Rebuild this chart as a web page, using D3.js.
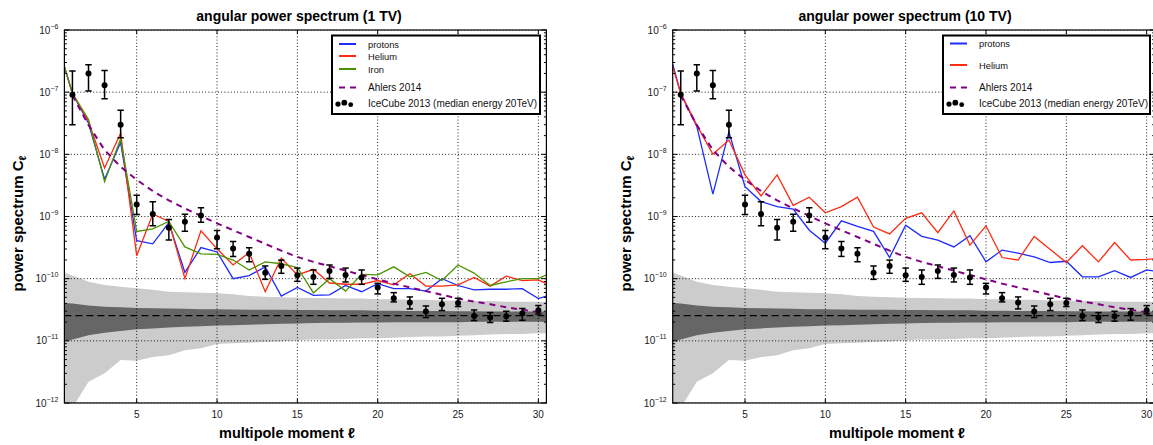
<!DOCTYPE html>
<html><head><meta charset="utf-8">
<script src="https://cdn.jsdelivr.net/npm/d3@7"></script>
<style>body{margin:0;background:#fff} svg{display:block}</style>
</head><body>
<svg id="chart" width="1153" height="445"></svg>
<script>
// ---------------- DATA ----------------
const ell = d3.range(1, 31);
const xTicks = [5, 10, 15, 20, 25, 30];
const yDecades = [-6, -7, -8, -9, -10, -11, -12];

// IceCube 2013 (median energy 20 TeV)
const iceCube = [9.1e-8, 2.0e-7, 1.29e-7, 3.0e-8, 1.56e-9, 1.10e-9, 6.6e-10, 8.2e-10, 1.04e-9, 4.6e-10,
  3.07e-10, 2.52e-10, 1.25e-10, 1.6e-10, 1.13e-10, 1.06e-10, 1.33e-10, 1.15e-10, 1.04e-10, 7.18e-11,
  4.83e-11, 4.12e-11, 2.96e-11, 3.87e-11, 4.07e-11, 2.52e-11, 2.37e-11, 2.49e-11, 2.75e-11, 3.1e-11];
const iceCubeLow = [3.0e-8, 1.04e-7, 7.8e-8, 1.85e-8, 1.08e-9, 7.1e-10, 4.2e-10, 5.8e-10, 8.1e-10, 3.03e-10,
  2.28e-10, 1.87e-10, 9.75e-11, 1.22e-10, 9.06e-11, 8.11e-11, 1.01e-10, 8.85e-11, 8.11e-11, 5.68e-11,
  4.23e-11, 3.26e-11, 2.37e-11, 3.07e-11, 3.56e-11, 2.12e-11, 1.97e-11, 2.07e-11, 2.15e-11, 2.71e-11];
const iceCubeHigh = [2.2e-7, 2.75e-7, 2.23e-7, 5.1e-8, 2.2e-9, 1.72e-9, 8.95e-10, 1.09e-9, 1.38e-9, 5.96e-10,
  3.97e-10, 3.14e-10, 1.6e-10, 1.99e-10, 1.48e-10, 1.38e-10, 1.66e-10, 1.48e-10, 1.38e-10, 8.41e-11,
  5.96e-11, 5.08e-11, 3.64e-11, 4.83e-11, 4.83e-11, 3.14e-11, 2.85e-11, 2.99e-11, 3.30e-11, 3.69e-11];

// Ahlers 2014 (log10 C_l)
const ahlersLog10 = [-7.05, -7.53, -7.93, -8.20, -8.41, -8.59, -8.74, -8.87, -8.99, -9.11,
  -9.22, -9.33, -9.44, -9.55, -9.65, -9.73, -9.80, -9.87, -9.94, -10.01,
  -10.08, -10.14, -10.20, -10.26, -10.32, -10.37, -10.41, -10.46, -10.50, -10.54];

// model curves sampled at the plot edges and at each multipole (log10 C_l)
const modelEll = [0.5, ...d3.range(1, 31), 30.5];
const protons1TV = [-6.59, -7.02, -7.50, -8.40, -7.81, -9.39, -9.44, -9.10, -9.90, -9.50, -9.57,
  -10.00, -9.95, -9.81, -10.28, -10.14, -10.27, -10.26, -10.11, -10.21, -10.08,
  -10.16, -10.16, -10.20, -10.00, -10.11, -10.18, -10.17, -10.17, -10.16, -10.32, -10.28];
const helium1TV = [-6.59, -7.02, -7.47, -8.22, -7.66, -9.63, -8.96, -9.08, -10.00, -9.23, -9.52,
  -9.78, -9.58, -10.21, -9.67, -9.94, -9.85, -10.07, -10.09, -10.09, -10.03,
  -10.10, -9.92, -10.12, -10.12, -10.10, -9.98, -10.12, -9.96, -10.03, -10.02, -10.08];
const iron1TV = [-6.59, -7.02, -7.44, -8.44, -7.75, -9.24, -9.20, -9.08, -9.49, -9.60, -9.61,
  -9.70, -9.86, -9.73, -9.76, -9.82, -10.23, -10.00, -10.20, -9.93, -9.94,
  -9.81, -9.97, -9.90, -10.03, -9.78, -9.91, -10.11, -10.05, -10.00, -10.00, -9.94];
const protons10TV = [-6.55, -7.02, -7.55, -8.64, -7.64, -8.52, -8.76, -8.84, -8.88, -9.22, -9.43,
  -9.07, -9.16, -9.24, -9.66, -9.14, -9.32, -9.38, -9.49, -9.31, -9.73,
  -9.54, -9.59, -9.65, -9.74, -9.72, -9.97, -9.97, -9.87, -9.98, -9.86, -9.88];
const helium10TV = [-6.59, -7.02, -7.53, -8.00, -7.77, -8.33, -8.67, -8.33, -8.82, -8.69, -8.94,
  -8.84, -8.69, -9.17, -9.28, -9.03, -8.94, -9.26, -8.91, -9.46, -9.15,
  -9.66, -9.70, -9.32, -9.53, -9.74, -9.47, -9.73, -9.42, -9.70, -9.69, -9.68];

// isotropic expectation and its bands (log10 C_l)
const isoLevel = 2.55e-11;
const lightTopLog10 = [-9.90, -9.95, -10.05, -10.10, -10.13, -10.155, -10.18, -10.21, -10.22, -10.225, -10.235,
  -10.25, -10.28, -10.29, -10.30, -10.305, -10.31, -10.315, -10.32, -10.32, -10.33,
  -10.33, -10.34, -10.34, -10.35, -10.35, -10.36, -10.36, -10.37, -10.37, -10.37, -10.37];
const lightBottomLog10 = [-12.3, -12.08, -11.66, -11.52, -11.31, -11.32, -11.26, -11.23, -11.15, -11.12, -11.05,
  -11.04, -11.03, -11.02, -11.01, -10.99, -10.98, -10.98, -10.97, -10.96, -10.96,
  -10.95, -10.94, -10.93, -10.93, -10.92, -10.91, -10.90, -10.89, -10.89, -10.88, -10.88];
const darkTopLog10 = [-10.39, -10.40, -10.43, -10.45, -10.46, -10.47, -10.475, -10.48, -10.485, -10.49, -10.49,
  -10.495, -10.50, -10.50, -10.50, -10.505, -10.505, -10.51, -10.51, -10.51, -10.515,
  -10.515, -10.52, -10.52, -10.52, -10.525, -10.525, -10.53, -10.53, -10.53, -10.53, -10.53];
const darkBottomLog10 = [-11.01, -10.98, -10.91, -10.87, -10.84, -10.815, -10.80, -10.785, -10.775, -10.765, -10.755,
  -10.75, -10.74, -10.735, -10.725, -10.72, -10.715, -10.71, -10.71, -10.705, -10.705,
  -10.70, -10.70, -10.70, -10.70, -10.70, -10.695, -10.695, -10.695, -10.695, -10.695, -10.695];

// ---------------- DRAW ----------------
const FONT = "'Liberation Sans', Arial, sans-serif";
const Y0 = 30, Y1 = 403;
const svg = d3.select("#chart");
svg.append("rect").attr("width", 1153).attr("height", 445).attr("fill", "#fff");

const COL = { protons: "#1c2cff", Helium: "#ff2a10", Iron: "#4a9400", ahlers: "#820082" };

const panels = [
  { id: "a", x0: 64.4, x1: 546.4, title: "angular power spectrum (1 TV)", titleX: 299, xlabX: 287, ylabX: 23,
    models: [{ name: "protons", v: protons1TV }, { name: "Helium", v: helium1TV }, { name: "Iron", v: iron1TV }],
    legend: { x: 332, w: 208, rows: [44, 56, 69, 87.5, 103.5] } },
  { id: "b", x0: 672.7, x1: 1154.7, title: "angular power spectrum (10 TV)", titleX: 905, xlabX: 897, ylabX: 631,
    models: [{ name: "protons", v: protons10TV }, { name: "Helium", v: helium10TV }],
    legend: { x: 943, w: 207, rows: [43.5, 65, 87.5, 103.5] } }
];

panels.forEach(p => {
  const x = d3.scaleLinear().domain([0.5, 30.5]).range([p.x0, p.x1]);
  const y = d3.scaleLog().domain([1e-12, 1e-6]).range([Y1, Y0]);
  const cid = "clip" + p.id;
  svg.append("clipPath").attr("id", cid).append("rect")
    .attr("x", p.x0).attr("y", Y0).attr("width", p.x1 - p.x0).attr("height", Y1 - Y0);
  const plot = svg.append("g").attr("clip-path", `url(#${cid})`);

  const band = (lo, hi) => d3.area()
    .x((d, i) => x(modelEll[i]))
    .y0((d, i) => y(Math.pow(10, lo[i])))
    .y1((d, i) => y(Math.pow(10, hi[i])))(modelEll);
  plot.append("path").attr("d", band(lightBottomLog10, lightTopLog10)).attr("fill", "#cccccc");
  plot.append("path").attr("d", band(darkBottomLog10, darkTopLog10)).attr("fill", "#666666");
  plot.append("line").attr("x1", p.x0).attr("x2", p.x1).attr("y1", y(isoLevel)).attr("y2", y(isoLevel))
    .attr("stroke", "#000").attr("stroke-width", 1.2).attr("stroke-dasharray", "7,4");

  // grid
  const grid = plot.append("g").attr("stroke", "#000").attr("stroke-width", 0.9).attr("stroke-dasharray", "1,2.2");
  xTicks.forEach(t => grid.append("line").attr("x1", x(t)).attr("x2", x(t)).attr("y1", Y0).attr("y2", Y1));
  yDecades.forEach(e => grid.append("line").attr("x1", p.x0).attr("x2", p.x1)
    .attr("y1", y(Math.pow(10, e))).attr("y2", y(Math.pow(10, e))));

  // models
  p.models.forEach(m => {
    plot.append("path")
      .attr("d", d3.line().x((d, i) => x(modelEll[i])).y(d => y(Math.pow(10, d)))(m.v))
      .attr("fill", "none").attr("stroke", COL[m.name]).attr("stroke-width", 1.3).attr("stroke-linejoin", "miter");
  });

  // Ahlers
  plot.append("path")
    .attr("d", d3.line().x((d, i) => x(ell[i])).y(d => y(Math.pow(10, d)))(ahlersLog10))
    .attr("fill", "none").attr("stroke", COL.ahlers).attr("stroke-width", 2).attr("stroke-dasharray", "6,5");

  // IceCube data
  const dg = plot.append("g");
  ell.forEach((l, i) => {
    const cx = x(l), yl = y(iceCubeLow[i]), yh = y(iceCubeHigh[i]);
    dg.append("line").attr("x1", cx).attr("x2", cx).attr("y1", yl).attr("y2", yh).attr("stroke", "#000").attr("stroke-width", 1.5);
    [yl, yh].forEach(yy => dg.append("line").attr("x1", cx - 3.2).attr("x2", cx + 3.2).attr("y1", yy).attr("y2", yy)
      .attr("stroke", "#000").attr("stroke-width", 1.5));
    dg.append("circle").attr("cx", cx).attr("cy", y(iceCube[i])).attr("r", 3).attr("fill", "#000");
  });

  // frame and ticks
  const fr = svg.append("g").attr("stroke", "#000");
  fr.append("rect").attr("x", p.x0).attr("y", Y0).attr("width", p.x1 - p.x0).attr("height", Y1 - Y0)
    .attr("fill", "none").attr("stroke-width", 1.2);
  xTicks.forEach(t => {
    fr.append("line").attr("x1", x(t)).attr("x2", x(t)).attr("y1", Y1).attr("y2", Y1 - 4);
    fr.append("line").attr("x1", x(t)).attr("x2", x(t)).attr("y1", Y0).attr("y2", Y0 + 4);
  });
  yDecades.forEach(e => {
    const yy = y(Math.pow(10, e));
    fr.append("line").attr("x1", p.x0).attr("x2", p.x0 + 5).attr("y1", yy).attr("y2", yy);
    fr.append("line").attr("x1", p.x1).attr("x2", p.x1 - 5).attr("y1", yy).attr("y2", yy);
    if (e > -12) d3.range(2, 10).forEach(k => {
      const ym = y(k * Math.pow(10, e - 1));
      fr.append("line").attr("x1", p.x0).attr("x2", p.x0 + 2.5).attr("y1", ym).attr("y2", ym);
      fr.append("line").attr("x1", p.x1).attr("x2", p.x1 - 2.5).attr("y1", ym).attr("y2", ym);
    });
  });

  // tick labels
  const tl = svg.append("g").attr("font-family", FONT).attr("fill", "#222");
  xTicks.forEach(t => tl.append("text").attr("x", x(t)).attr("y", 418).attr("text-anchor", "middle")
    .attr("font-size", 10).text(t));
  yDecades.forEach(e => {
    const t = tl.append("text").attr("x", p.x0 - 6).attr("y", y(Math.pow(10, e)) + 3.5).attr("text-anchor", "end");
    t.append("tspan").attr("font-size", 10).text("10");
    t.append("tspan").attr("font-size", 7).attr("dy", -5).text("\u2212" + (-e));
  });

  // titles
  svg.append("text").attr("x", p.titleX).attr("y", 21).attr("text-anchor", "middle")
    .attr("font-family", FONT).attr("font-weight", "bold").attr("font-size", 14).text(p.title);
  svg.append("text").attr("x", p.xlabX).attr("y", 438).attr("text-anchor", "middle")
    .attr("font-family", FONT).attr("font-weight", "bold").attr("font-size", 14.5).text("multipole moment \u2113");
  const yl = svg.append("text").attr("transform", `translate(${p.ylabX},223.5) rotate(-90)`).attr("text-anchor", "middle")
    .attr("font-family", FONT).attr("font-weight", "bold").attr("font-size", 15);
  yl.append("tspan").text("power spectrum C");
  yl.append("tspan").attr("font-size", 10).attr("dy", 3).text("\u2113");

  // legend
  const L = p.legend;
  const lg = svg.append("g");
  lg.append("rect").attr("x", L.x).attr("y", 35.5).attr("width", L.w).attr("height", 78.5)
    .attr("fill", "#fff").attr("stroke", "#000").attr("stroke-width", 2);
  const items = p.models.map(m => ({ label: m.name, color: COL[m.name], kind: "line" }))
    .concat([{ label: "Ahlers 2014", color: COL.ahlers, kind: "dash" }, { label: "IceCube 2013 (median energy 20TeV)", kind: "dots" }]);
  items.forEach((it, i) => {
    const yy = L.rows[i];
    if (it.kind === "line") {
      lg.append("line").attr("x1", L.x + 7).attr("x2", L.x + 24).attr("y1", yy).attr("y2", yy)
        .attr("stroke", it.color).attr("stroke-width", 2);
    } else if (it.kind === "dash") {
      lg.append("line").attr("x1", L.x + 7).attr("x2", L.x + 24).attr("y1", yy).attr("y2", yy)
        .attr("stroke", it.color).attr("stroke-width", 2).attr("stroke-dasharray", "6,5");
    } else {
      [[6, 0.6, 2.6], [12.3, -0.8, 2.9], [18.7, 1.2, 2.4]].forEach(d =>
        lg.append("circle").attr("cx", L.x + d[0]).attr("cy", yy + d[1]).attr("r", d[2]).attr("fill", "#000"));
    }
    lg.append("text").attr("x", L.x + 36).attr("y", yy + 3.5).attr("font-family", FONT)
      .attr("font-size", it.kind === "line" ? 9.3 : 10).attr("fill", "#111").text(it.label);
  });
});
</script>
</body></html>
